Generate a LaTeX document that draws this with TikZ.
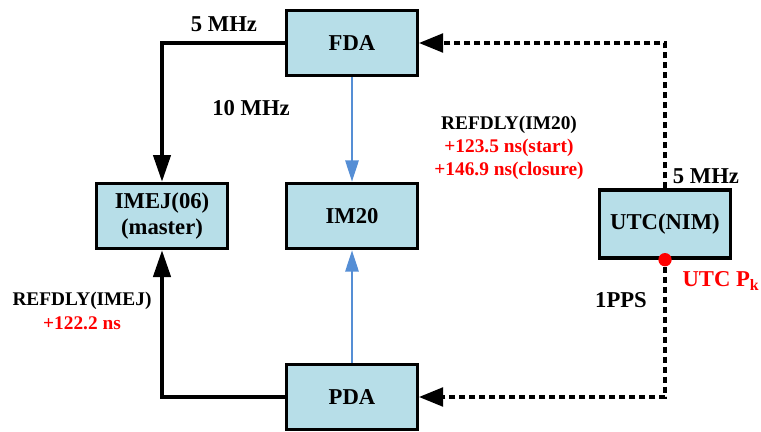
\documentclass[tikz,border=0pt]{standalone}
\usepackage{fontspec}
\setmainfont{Liberation Serif}
\usetikzlibrary{arrows.meta,positioning}
\definecolor{boxblue}{HTML}{B7DEE8}
\definecolor{linkblue}{HTML}{558ED5}

\begin{document}
\begin{tikzpicture}[x=0.75pt,y=-0.75pt,
    box/.style={rectangle,draw,line width=2.5pt,fill=boxblue,align=center,
      font=\fontsize{17}{19}\selectfont\bfseries,minimum width=98pt,
      minimum height=49pt,inner sep=0pt},
    lbl/.style={font=\fontsize{17}{19}\selectfont\bfseries},
    note/.style={font=\fontsize{14.5}{17}\selectfont\bfseries,align=center},
    clk/.style={line width=2.5pt,-{Triangle[length=20pt,width=13pt]}},
    lnk/.style={line width=1.5pt,linkblue,-{Triangle[length=16pt,width=10pt]}},
    sync/.style={line width=2.3pt,dash pattern=on 4.5pt off 3pt,
      -{Triangle[length=18pt,width=14pt]}}]
\useasboundingbox (0,0) rectangle (761,432);
\node[box] (fda) at (352,43) {FDA};
\node[box] (im20) at (352,216) {IM20};
\node[box] (imej) at (162,216) {IMEJ(06)\\(master)};
\node[box] (pda) at (352,397) {PDA};
\node[box,minimum height=51pt] (utc) at (665,224) {UTC(NIM)};
\node[circle,fill=red,inner sep=0pt,minimum size=10pt] (pk) at (utc.south) {};
% frequency and pulse links
\draw[clk] (fda) -| (imej);
\draw[clk] (pda) -| (imej);
\draw[lnk] (fda) -- (im20);
\draw[lnk] (pda) -- (im20);
\draw[sync] (utc) |- (fda);
\draw[sync] (pk) |- (pda);
% labels
\node[lbl] (fda5) at (224,24) {5 MHz};
\node[lbl] (fda10) at (251,108) {10 MHz};
\node[note] (dlyim20) at (509,148) {REFDLY(IM20)\\\textcolor{red}{+123.5 ns(start)}\\
  \textcolor{red}{+146.9 ns(closure)}};
\node[lbl] (utc5) at (706,176) {5 MHz};
\node[lbl,red] (pklbl) at (721,281) {UTC P\textsubscript{k}};
\node[lbl] (pps) at (621,300) {1PPS};
\node[note] (dlyimej) at (82,311) {REFDLY(IMEJ)\\[1pt]\textcolor{red}{+122.2 ns}};
\end{tikzpicture}
\end{document}
